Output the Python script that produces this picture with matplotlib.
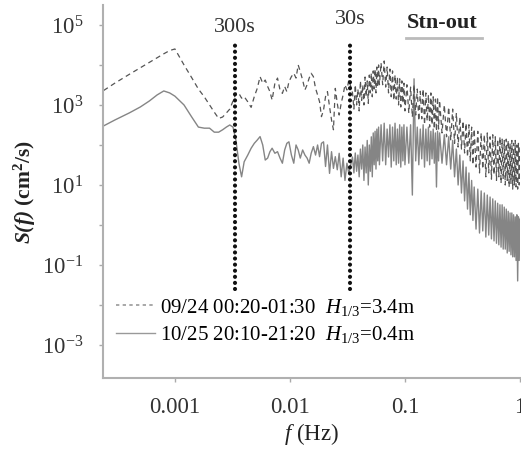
import matplotlib
matplotlib.use("Agg")
import matplotlib.pyplot as plt
from matplotlib.lines import Line2D

plt.rcParams['font.family'] = ['Liberation Serif', 'DejaVu Serif']
plt.rcParams['mathtext.fontset'] = 'custom'
plt.rcParams['mathtext.rm'] = 'Liberation Serif'
plt.rcParams['mathtext.it'] = 'Liberation Serif:italic'
plt.rcParams['mathtext.bf'] = 'Liberation Serif:bold'
plt.rcParams['mathtext.sf'] = 'Liberation Serif:italic:bold'

# ---- data (f in Hz, S in cm^2/s) ----
freq_low = [0.00024, 0.0003, 0.0004, 0.0005, 0.0006, 0.0007, 0.0008, 0.0009, 0.001,
            0.0012, 0.0014, 0.0016, 0.0018, 0.002, 0.0022, 0.0024, 0.0026, 0.0028,
            0.003, 0.0032, 0.0034]
s0924_low = [2300, 3500, 5800, 8500, 11700, 15100, 19000, 22900, 25100, 10000, 4800,
             2500, 1600, 1000, 660, 460, 500, 630, 790, 1260, 2000]
s1025_low = [300, 420, 630, 890, 1260, 1780, 2240, 2000, 1660, 1000, 500, 280, 263,
             263, 209, 209, 240, 280, 316, 280, 126]

freq_mid = [0.0036, 0.0038, 0.004, 0.0043, 0.0046, 0.0049, 0.0052, 0.0055, 0.0058,
            0.0061, 0.0064, 0.0067, 0.007, 0.0074, 0.0078, 0.0082, 0.0086, 0.009,
            0.0094, 0.0098, 0.0103, 0.0108, 0.0113, 0.0118, 0.0123, 0.0129, 0.0135,
            0.0141, 0.0147, 0.0153, 0.016, 0.0167, 0.0174, 0.0181, 0.0188, 0.0196,
            0.0204, 0.0212, 0.0221, 0.023, 0.0239, 0.0248, 0.0258, 0.0268, 0.0279,
            0.029, 0.0301, 0.0313, 0.0325, 0.0338]
s0924_mid = [1950, 1480, 1620, 1200, 870, 1620, 2600, 5100, 3500, 4200, 2900, 2150,
             1330, 3500, 4700, 2370, 1950, 2900, 2150, 3800, 5100, 6200, 4700, 10000,
             6800, 4200, 2370, 3200, 4700, 6200, 5100, 2600, 1780, 1200, 510, 750,
             1620, 2150, 910, 420, 240, 2600, 1100, 560, 1100, 1780, 3200, 2370, 4200,
             2900]
s1025_mid = [35, 16, 38, 56, 83, 110, 133, 162, 100, 42, 47, 68, 83, 62, 68, 47, 35,
             75, 110, 120, 56, 35, 100, 75, 47, 75, 56, 47, 35, 62, 91, 56, 100, 51,
             110, 120, 29, 100, 19.5, 68, 26, 51, 24, 62, 16, 47, 13, 35, 19.5, 32]

freq_high = [0.035, 0.036, 0.037, 0.038, 0.039, 0.040, 0.041, 0.042, 0.043, 0.044,
             0.045, 0.046, 0.047, 0.048, 0.049, 0.050, 0.051, 0.052, 0.053, 0.054,
             0.055, 0.056, 0.057, 0.058, 0.059, 0.060,
             0.062, 0.064, 0.066, 0.068, 0.070, 0.072, 0.074, 0.076, 0.078, 0.080,
             0.082, 0.084, 0.086, 0.088, 0.090, 0.092, 0.094, 0.096, 0.098, 0.100,
             0.104, 0.108, 0.112, 0.116, 0.120, 0.124, 0.128, 0.132, 0.136, 0.140,
             0.144, 0.148, 0.152, 0.156, 0.160, 0.164, 0.168, 0.172, 0.176, 0.180,
             0.184, 0.188, 0.192, 0.196, 0.200,
             0.21, 0.22, 0.23, 0.24, 0.25, 0.26, 0.27, 0.28, 0.29, 0.30, 0.31, 0.32,
             0.33, 0.34, 0.35, 0.36, 0.37, 0.38, 0.39, 0.40,
             0.415, 0.43, 0.445, 0.46, 0.475, 0.49, 0.505, 0.52, 0.535, 0.55, 0.565,
             0.58, 0.595, 0.61, 0.625, 0.64, 0.655, 0.67, 0.685, 0.70, 0.715, 0.73,
             0.745, 0.76, 0.775, 0.79, 0.805, 0.82, 0.835, 0.85, 0.865, 0.88, 0.895,
             0.91, 0.925, 0.94, 0.955, 0.97, 0.985, 1.0]
s0924_high = [2000, 790, 3200, 1000, 2500, 710, 4000, 1300, 3200, 1000, 5000, 1600,
              4000, 1100, 5600, 2000, 6300, 1600, 7100, 2500, 7900, 2000, 8900, 2800,
              10000, 3200,
              11200, 3200, 12600, 2800, 8900, 2000, 7900, 1600, 7100, 1300, 5600, 1400,
              5000, 1000, 4500, 890, 4000, 1100, 3500, 710,
              3200, 630, 2800, 500, 3200, 560, 2500, 400, 2200, 450, 2500, 320, 2000,
              400, 1800, 280, 2000, 320, 1600, 250, 1400, 220, 1600, 250, 1300,
              200, 1000, 160, 890, 130, 790, 110, 630, 89, 500, 79, 400, 63, 350, 50,
              320, 40, 280, 32, 250,
              28, 220, 20, 200, 25, 180, 16, 200, 20, 160, 14, 180, 18, 160, 13, 140,
              16, 160, 11, 140, 14, 130, 10, 140, 13, 130, 8.9, 110, 11, 130, 7.9, 110,
              10, 130, 8.9, 100, 7.9, 110, 10, 89]
s1025_high = [50, 20, 63, 22, 56, 16, 79, 25, 100, 13, 89, 20, 130, 10, 100, 22, 160,
              16, 200, 32, 220, 25, 250, 40, 280, 32,
              320, 40, 350, 32, 250, 50, 320, 28, 280, 40, 350, 32, 250, 35, 320, 28,
              280, 40, 320, 32,
              280, 35, 320, 5.6, 4500, 40, 280, 32, 250, 45, 320, 28, 250, 40, 280, 32,
              220, 45, 250, 35, 200, 8.9, 220, 40, 200,
              35, 180, 32, 160, 25, 130, 16, 79, 10, 56, 6.3, 40, 4.0, 28, 2.5, 20, 1.8,
              13, 1.3, 8.9,
              0.79, 7.9, 0.63, 7.1, 0.71, 6.3, 0.5, 5.6, 0.56, 5.0, 0.45, 4.5, 0.4, 4.0,
              0.35, 3.5, 0.32, 3.2, 0.28, 3.2, 0.25, 2.8, 0.25, 2.5, 0.2, 2.2, 0.22,
              2.0, 0.18, 2.0, 0.16, 1.8, 0.16, 1.6, 0.13, 1.8, 0.04, 1.6, 0.13, 1.4]

freq = freq_low + freq_mid + freq_high
s0924 = s0924_low + s0924_mid + s0924_high
s1025 = s1025_low + s1025_mid + s1025_high

periods = [300, 30]          # s, marked by dotted vertical lines
period_labels = ['300s', '30s']
period_label_y = [8.8e4, 1.4e5]

label_0924 = r'09/24 00:20-01:30  $\mathit{H}_{\mathit{1/3}}$=3.4m'
label_1025 = r'10/25 20:10-21:20  $\mathit{H}_{\mathit{1/3}}$=0.4m'

fig = plt.figure(figsize=(5.21, 4.5), dpi=100)
ax = fig.add_axes([0.1977, 0.16, 0.8003, 0.829])

ax.plot(freq, s1025, color='#858585', lw=1.0)
ax.plot(freq, s0924, color='#555555', lw=0.9, linestyle=(0, (4, 3)))

for p, lab, ly in zip(periods, period_labels, period_label_y):
    ax.vlines(1.0 / p, 0.025, 3.8e4, colors='#111111', lw=3.0,
              linestyles=(0, (0.01, 1.45)), capstyle='round')
    ax.text(1.0 / p, ly, lab, ha='center', va='center', fontsize=16, color='#333333')

ax.text(0.813, 0.952, 'Stn-out', transform=ax.transAxes, ha='center', va='center',
        fontsize=16, fontweight='bold', color='#222222')
ax.plot([0.727, 0.909], [0.912, 0.912], transform=ax.transAxes, color='#bbbbbb',
        lw=2, clip_on=False)

ax.set_xscale('log')
ax.set_yscale('log')
ax.set_xlim(2.37e-4, 1.0)
ax.set_ylim(1.5e-4, 3.16e5)

ax.set_xticks([0.001, 0.01, 0.1, 1])
ax.set_xticklabels(['0.001', '0.01', '0.1', '1'])
ax.set_xticks([], minor=True)
ax.set_yticks([1e-3, 1e-1, 1e1, 1e3, 1e5])
ax.set_yticklabels([r'10$^{-3}$', r'10$^{-1}$', r'10$^{1}$', r'10$^{3}$', r'10$^{5}$'])
ax.set_yticks([1e-2, 1, 1e2, 1e4], minor=True)
ax.tick_params(axis='both', which='both', length=3, width=1, color='#aaaaaa',
               labelsize=16.5, labelcolor='#333333')
ax.tick_params(axis='y', which='both', pad=11)
ax.tick_params(axis='y', which='minor', labelleft=False)
ax.tick_params(axis='x', pad=11)

for side in ['top', 'right']:
    ax.spines[side].set_visible(False)
for side in ['left', 'bottom']:
    ax.spines[side].set_color('#b0b0b0')
    ax.spines[side].set_linewidth(1.5)

ax.set_xlabel(r'$\mathit{f}$ (Hz)', fontsize=16.5, labelpad=2, color='#222222')
ax.set_ylabel(r'$\mathsf{S(f)}$ (cm$^\mathbf{2}$/s)', fontsize=15.5, fontweight='bold',
              labelpad=3, color='#222222')

handles = [Line2D([], [], color='#999999', lw=1.2, linestyle=(0, (2, 2))),
           Line2D([], [], color='#999999', lw=1.0)]
ax.legend(handles, [label_0924, label_1025], loc='lower left',
          bbox_to_anchor=(0.0, 0.055), frameon=False, fontsize=15,
          handlelength=1.9, handletextpad=0.25, labelspacing=0.3, borderaxespad=0.2)

fig.savefig('out.png', dpi=100)
